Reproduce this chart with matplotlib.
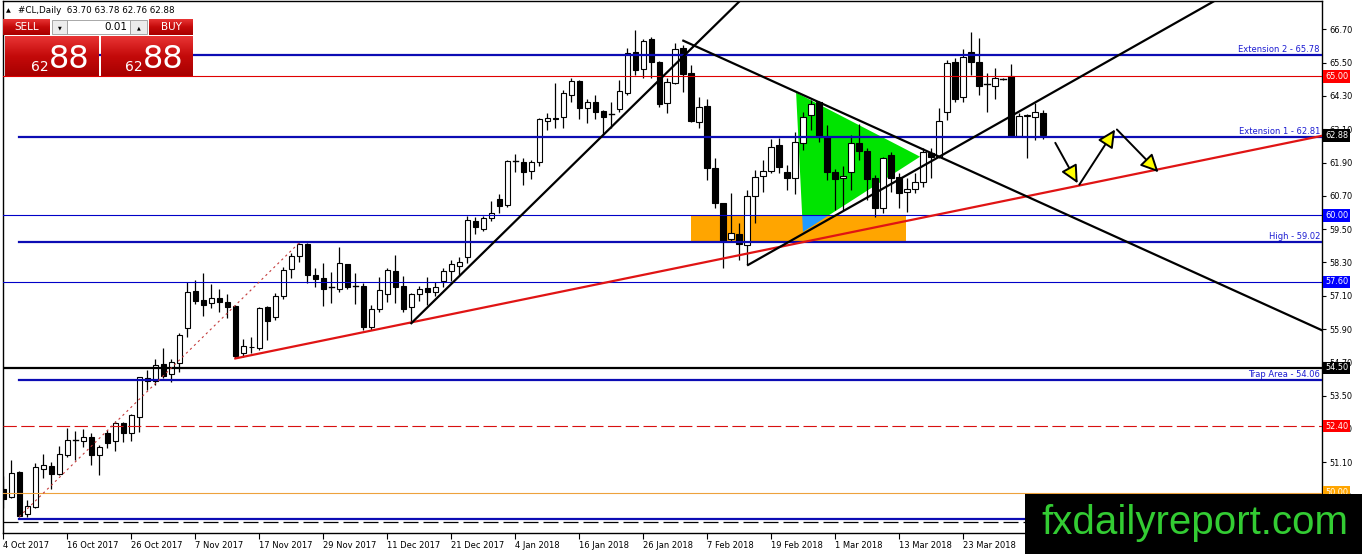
import matplotlib
matplotlib.use("Agg")
import matplotlib.pyplot as plt
from matplotlib.patches import Rectangle, Polygon, FancyArrowPatch
from matplotlib.colors import LinearSegmentedColormap
import numpy as np

plt.rcParams['font.family'] = ['DejaVu Sans']

# ---------------- data (daily OHLC, #CL) ----------------
opens = [50.12, 49.84, 50.75, 49.23, 49.50, 50.87, 50.96, 50.67, 51.35, 51.88,
         51.88, 52.00, 51.35, 52.14, 51.85, 52.52, 52.14, 52.74, 54.12, 54.04,
         54.63, 54.27, 54.69, 55.95, 57.27, 56.94, 56.83, 57.01, 56.87, 56.73,
         55.02, 55.24, 55.20, 56.68, 56.34, 57.09, 58.05, 58.53, 58.95, 57.85,
         57.73, 57.38, 57.33, 58.24, 57.47, 57.45, 55.98, 56.61, 57.15, 57.99,
         57.45, 56.68, 57.16, 57.37, 57.24, 57.64, 58.00, 58.18, 58.48, 59.79,
         59.51, 59.89, 60.60, 60.37, 61.92, 61.91, 61.59, 61.91, 63.41, 63.51,
         63.55, 64.33, 64.84, 63.87, 64.07, 63.76, 63.63, 63.82, 64.42, 65.89,
         65.26, 66.35, 65.53, 64.03, 64.75, 66.04, 65.11, 63.37, 63.94, 61.69,
         60.43, 59.14, 59.31, 58.93, 60.70, 61.42, 61.60, 62.53, 61.57, 61.33,
         62.59, 63.61, 64.07, 62.81, 61.55, 61.33, 61.55, 62.59, 62.31, 61.33,
         60.25, 62.17, 61.39, 60.85, 60.93, 61.19, 62.23, 62.11, 63.71, 65.51,
         64.27, 65.89, 65.53, 64.70, 64.67, 64.90, 65.03, 62.87, 63.57, 63.53,
         63.70]
highs = [50.62, 51.18, 50.78, 49.74, 51.06, 51.38, 51.10, 51.68, 52.34, 52.22,
         52.30, 52.14, 51.72, 52.26, 52.58, 52.56, 52.84, 54.18, 54.42, 54.81,
         55.22, 54.81, 55.74, 57.58, 57.67, 57.91, 57.52, 57.33, 57.16, 56.75,
         55.53, 55.61, 56.68, 56.73, 57.21, 58.12, 58.63, 59.01, 59.00, 58.09,
         58.29, 57.94, 58.87, 58.26, 57.91, 57.57, 56.76, 57.76, 58.09, 58.57,
         57.81, 57.21, 57.45, 57.76, 57.60, 58.09, 58.39, 58.48, 59.97, 59.95,
         59.97, 60.51, 60.76, 61.99, 62.20, 62.05, 61.99, 63.49, 63.67, 64.75,
         64.51, 64.93, 64.86, 64.19, 64.33, 63.79, 64.09, 64.87, 66.04, 66.67,
         66.35, 66.43, 65.55, 64.93, 66.20, 66.13, 65.41, 64.27, 64.19, 62.07,
         60.45, 60.79, 59.71, 60.91, 61.63, 61.99, 62.74, 62.77, 61.81, 62.99,
         63.71, 64.15, 64.12, 63.25, 61.67, 61.78, 62.89, 63.28, 62.41, 61.45,
         62.11, 62.29, 61.51, 61.33, 61.51, 62.41, 62.41, 63.87, 65.59, 65.65,
         65.99, 66.59, 66.40, 65.11, 65.29, 64.93, 65.44, 63.67, 63.64, 64.03,
         63.78]
lows = [49.45, 49.80, 49.12, 49.12, 49.45, 50.52, 50.12, 50.64, 51.30, 51.18,
        51.66, 51.00, 50.64, 51.62, 51.51, 51.84, 51.87, 52.20, 53.70, 53.88,
        54.12, 53.98, 54.36, 55.62, 56.80, 56.38, 56.65, 56.52, 56.29, 54.84,
        54.90, 55.02, 55.14, 55.50, 56.22, 56.97, 57.73, 58.33, 57.55, 57.40,
        56.73, 56.83, 57.24, 57.33, 56.80, 55.86, 55.86, 56.52, 56.88, 56.83,
        56.52, 56.11, 56.92, 56.76, 57.09, 57.42, 57.64, 57.85, 58.29, 59.32,
        59.44, 59.79, 60.09, 60.29, 61.57, 61.09, 61.30, 61.78, 63.07, 63.13,
        63.13, 64.09, 63.47, 63.31, 63.47, 62.89, 63.13, 63.71, 64.33, 65.05,
        64.93, 64.96, 63.91, 63.67, 64.72, 64.45, 63.37, 63.13, 61.27, 60.27,
        58.09, 59.07, 58.39, 58.21, 59.71, 60.85, 61.51, 61.51, 60.91, 60.75,
        62.35, 63.07, 62.63, 61.27, 60.19, 60.19, 60.91, 61.99, 60.55, 59.95,
        60.07, 60.85, 60.25, 60.10, 60.79, 61.03, 61.33, 62.07, 63.43, 64.07,
        64.09, 65.05, 64.33, 63.71, 64.19, 64.89, 62.83, 62.83, 62.05, 62.71,
        62.76]
closes = [49.78, 50.70, 49.15, 49.52, 50.92, 51.00, 50.67, 51.38, 51.89, 51.90,
          52.00, 51.35, 51.64, 51.80, 52.50, 52.14, 52.79, 54.16, 54.04, 54.59,
          54.22, 54.70, 55.67, 57.22, 56.92, 56.78, 57.01, 56.88, 56.70, 54.93,
          55.29, 55.27, 56.65, 56.20, 57.09, 58.03, 58.54, 58.95, 57.84, 57.70,
          57.35, 57.40, 58.27, 57.42, 57.45, 55.96, 56.61, 57.31, 58.03, 57.42,
          56.62, 57.16, 57.33, 57.24, 57.42, 58.00, 58.24, 58.33, 59.83, 59.56,
          59.91, 60.09, 60.34, 61.94, 61.94, 61.57, 61.91, 63.46, 63.49, 63.47,
          64.39, 64.84, 63.87, 64.07, 63.71, 63.55, 63.65, 64.47, 65.84, 65.23,
          66.28, 65.53, 64.00, 64.79, 65.99, 65.08, 63.41, 63.91, 61.71, 60.43,
          59.07, 59.35, 58.95, 60.70, 61.39, 61.60, 62.47, 61.75, 61.33, 62.63,
          63.55, 64.00, 62.83, 61.55, 61.31, 61.42, 62.59, 62.31, 61.31, 60.27,
          62.07, 61.33, 60.81, 60.94, 61.19, 62.27, 62.11, 63.40, 65.47, 64.19,
          65.71, 65.51, 64.67, 64.72, 64.93, 64.91, 62.87, 63.57, 63.61, 63.71,
          62.88]

date_labels = ["4 Oct 2017", "16 Oct 2017", "26 Oct 2017", "7 Nov 2017", "17 Nov 2017",
               "29 Nov 2017", "11 Dec 2017", "21 Dec 2017", "4 Jan 2018", "16 Jan 2018",
               "26 Jan 2018", "7 Feb 2018", "19 Feb 2018", "1 Mar 2018", "13 Mar 2018",
               "23 Mar 2018"]
date_label_bars = [0, 8, 16, 24, 32, 40, 48, 56, 64, 72, 80, 88, 96, 104, 112, 120]
price_ticks = [66.70, 65.50, 64.30, 63.10, 61.90, 60.70, 59.50, 58.30, 57.10,
               55.90, 54.70, 53.50, 52.30, 51.10, 49.90]

# named horizontal levels (thick blue, drawn from the Oct low onwards)
named_levels = [65.78, 62.81, 59.02, 54.06, 49.05]
named_texts = ["Extension 2 - 65.78", "Extension 1 - 62.81", "High - 59.02",
               "Trap Area - 54.06", ""]
level_start_bar = 2
# price levels tagged on the price scale
tag_levels = [65.00, 60.00, 57.60, 54.50, 52.40, 50.00]
bottom_dashed_level = 48.94
last_price = 62.88

# drawn objects (bar index, price)
red_trend_x, red_trend_y = [29, 164.8], [54.84, 62.86]
dotted_x, dotted_y = [2, 37], [49.14, 59.01]
up1_x, up1_y = [51, 95], [56.11, 68.55]
down_x, down_y = [85, 164.8], [66.29, 55.86]
up2_x, up2_y = [93.1, 155], [58.21, 68.31]
green_tri = [(99.1, 64.42), (99.96, 59.40), (114.6, 62.11)]
zone_bars = [86.0, 112.9]
zone_prices = [59.02, 60.00]
arrow_tails = [(131.5, 62.61), (134.5, 61.10), (139.2, 63.09)]
arrow_heads = [(134.3, 61.15), (138.97, 63.09), (144.4, 61.55)]

# ---------------- figure ----------------
W, H = 1362, 554
fig = plt.figure(figsize=(W / 100, H / 100), dpi=100)
fig.patch.set_facecolor('white')
ax = fig.add_axes([3 / W, 21 / H, 1319 / W, 532 / H])
ax.set_xlim(-0.04, 164.84)
ax.set_ylim(48.55, 67.72)
ax.set_facecolor('white')
for s in ax.spines.values():
    s.set_color('black')
    s.set_linewidth(1.0)

BLUE_THICK = '#0c0cb4'
BLUE_THIN = '#0000c8'
BLUE_TEXT = '#1c1cd2'

# background objects
ax.add_patch(Polygon(green_tri, closed=True, fc='#00e400', ec='none', zorder=1))
ax.add_patch(Rectangle((zone_bars[0], zone_prices[0]), zone_bars[1] - zone_bars[0],
                       zone_prices[1] - zone_prices[0], fc='#ffa500', ec='none', zorder=1))


def clip_poly(poly, x0, x1, y0, y1):
    def clip(pts, inside, inter):
        out = []
        for i in range(len(pts)):
            a, b = pts[i - 1], pts[i]
            ia, ib = inside(a), inside(b)
            if ib:
                if not ia:
                    out.append(inter(a, b))
                out.append(b)
            elif ia:
                out.append(inter(a, b))
        return out

    def ix(a, b, x):
        t = (x - a[0]) / (b[0] - a[0])
        return (x, a[1] + t * (b[1] - a[1]))

    def iy(a, b, y):
        t = (y - a[1]) / (b[1] - a[1])
        return (a[0] + t * (b[0] - a[0]), y)

    p = list(poly)
    p = clip(p, lambda q: q[0] >= x0, lambda a, b: ix(a, b, x0))
    p = clip(p, lambda q: q[0] <= x1, lambda a, b: ix(a, b, x1))
    p = clip(p, lambda q: q[1] >= y0, lambda a, b: iy(a, b, y0))
    p = clip(p, lambda q: q[1] <= y1, lambda a, b: iy(a, b, y1))
    return p


overlap = clip_poly(green_tri, zone_bars[0], zone_bars[1], zone_prices[0], zone_prices[1])
if len(overlap) >= 3:
    ax.add_patch(Polygon(overlap, closed=True, fc='#1e9bff', ec='none', zorder=1.2))

# candles
bw = 0.7
for i, (o, h, l, c) in enumerate(zip(opens, highs, lows, closes)):
    ax.plot([i, i], [l, h], color='black', lw=0.9, zorder=3, solid_capstyle='butt')
    lo, hi = min(o, c), max(o, c)
    if hi - lo < 0.03:
        ax.plot([i - bw / 2, i + bw / 2], [c, c], color='black', lw=1.0, zorder=3.2)
    else:
        ax.add_patch(Rectangle((i - bw / 2, lo), bw, hi - lo,
                               fc='white' if c > o else 'black', ec='black',
                               lw=0.8, zorder=3.1))

xmax = ax.get_xlim()[1]
xmin = ax.get_xlim()[0]

# horizontal levels
for p in named_levels:
    ax.plot([level_start_bar, xmax], [p, p], color=BLUE_THICK, lw=1.6, zorder=4)
tag_styles = {65.00: ('#e00000', 0.8, '-'), 60.00: (BLUE_THIN, 0.8, '-'),
              57.60: (BLUE_THIN, 0.8, '-'), 54.50: ('black', 1.6, '-'),
              52.40: ('#d81010', 0.8, (0, (12, 4))), 50.00: ('#eda23c', 0.8, '-')}
for p in tag_levels:
    col, lw, ls = tag_styles[p]
    ax.plot([xmin, xmax], [p, p], color=col, lw=lw, ls=ls, zorder=4)
ax.plot([xmin, xmax], [bottom_dashed_level] * 2, color='black', lw=0.9,
        ls=(0, (12, 4)), zorder=4)

for p, t in zip(named_levels, named_texts):
    if t:
        ax.annotate(t, xy=(1, p), xycoords=('axes fraction', 'data'),
                    xytext=(-1.5, 0.8), textcoords='offset points', ha='right',
                    va='bottom', fontsize=6, color=BLUE_TEXT, zorder=6)

# trend lines
ax.plot(red_trend_x, red_trend_y, color='#e01414', lw=1.6, zorder=5)
ax.plot(dotted_x, dotted_y, color='#c43a3a', lw=0.8, ls=(0, (2, 3)), zorder=5)
ax.plot(up1_x, up1_y, color='black', lw=1.6, zorder=5)
ax.plot(down_x, down_y, color='black', lw=1.6, zorder=5)
ax.plot(up2_x, up2_y, color='black', lw=1.6, zorder=5)

# arrows
for t, h in zip(arrow_tails, arrow_heads):
    ax.add_patch(FancyArrowPatch(t, h, arrowstyle='-|>,head_length=0.45,head_width=0.22',
                                 mutation_scale=24, fc='#ffff00', ec='black', lw=1.4,
                                 shrinkA=0, shrinkB=0, zorder=6))

# axes ticks
ax.set_xticks(date_label_bars)
ax.set_xticklabels(date_labels, ha='left')
ax.yaxis.tick_right()
ax.set_yticks(price_ticks)
ax.set_yticklabels([f"{v:.2f}" for v in price_ticks])
ax.tick_params(axis='x', direction='out', length=4, pad=2, labelsize=6, width=0.8)
ax.tick_params(axis='y', direction='out', length=3, pad=2, labelsize=5.9, width=0.8)
ax.yaxis.set_tick_params(which='both', right=True, left=False)

# price tags
tag_colors = {65.00: '#ff0000', 60.00: '#0000ff', 57.60: '#0000ff', 54.50: 'black',
              52.40: '#ff0000', 50.00: '#ffa500'}
for p in tag_levels + [last_price]:
    fc = tag_colors.get(p, 'black')
    ax.annotate(f"{p:.2f}", xy=(1, p), xycoords=('axes fraction', 'data'),
                xytext=(2.2, 0), textcoords='offset points', ha='left', va='center',
                fontsize=5.9, color='white', zorder=8, annotation_clip=False,
                bbox=dict(boxstyle='square,pad=0.22', fc=fc, ec='none'))

# ---------------- overlay: header, trade panel, logo ----------------
ov = fig.add_axes([0, 0, 1, 1], zorder=10)
ov.set_xlim(0, W)
ov.set_ylim(H, 0)
ov.axis('off')
ov.patch.set_alpha(0)

ov.text(8, 10.5, '▲', fontsize=4.5, ha='center', va='center', color='black')
ov.text(18, 10.5, f"#CL,Daily  {opens[-1]:.2f} {highs[-1]:.2f} {lows[-1]:.2f} {closes[-1]:.2f}",
        fontsize=6.3, ha='left', va='center', color='black')

redmap = LinearSegmentedColormap.from_list('r', ['#e83434', '#c40a0a', '#a80000'])
grad = np.linspace(0, 1, 50).reshape(-1, 1)


def red_box(x0, y0, x1, y1):
    ov.imshow(grad, extent=(x0, x1, y1, y0), cmap=redmap, aspect='auto',
              origin='upper', zorder=1, interpolation='bilinear')


red_box(3, 19, 50, 35)
red_box(149, 19, 193, 35)
red_box(5, 36, 99, 76)
red_box(101, 36, 193, 76)
ov.text(26.5, 27.5, 'SELL', fontsize=7.5, color='white', ha='center', va='center', zorder=3)
ov.text(171, 27.5, 'BUY', fontsize=7.5, color='white', ha='center', va='center', zorder=3)
ov.add_patch(Rectangle((52, 20), 15, 14, fc='#ececec', ec='#9a9a9a', lw=0.6, zorder=2))
ov.add_patch(Rectangle((67, 20), 63, 14, fc='white', ec='#9a9a9a', lw=0.6, zorder=2))
ov.add_patch(Rectangle((130, 20), 17, 14, fc='#ececec', ec='#9a9a9a', lw=0.6, zorder=2))
ov.text(59.5, 27.5, '▼', fontsize=3.5, ha='center', va='center', zorder=3)
ov.text(138.5, 27.5, '▲', fontsize=3.5, ha='center', va='center', zorder=3)
ov.text(127, 27.5, '0.01', fontsize=7.5, ha='right', va='center', zorder=3)
bid_big = f"{closes[-1]:.2f}"
ov.text(49, 67, bid_big[:2], fontsize=10, color='white', ha='right', va='center', zorder=3)
ov.text(69, 60, bid_big[3:], fontsize=23, color='white', ha='center', va='center', zorder=3)
ov.text(143, 67, bid_big[:2], fontsize=10, color='white', ha='right', va='center', zorder=3)
ov.text(163, 60, bid_big[3:], fontsize=23, color='white', ha='center', va='center', zorder=3)

ov.add_patch(Rectangle((1025, 494), W - 1025, H - 494, fc='black', ec='none', zorder=2))
ov.text(1195, 523, 'fxdailyreport.com', fontsize=29, color='#33cc33',
        family='Liberation Sans', ha='center', va='center', zorder=3)
ov.set_xlim(0, W)
ov.set_ylim(H, 0)

fig.savefig('out.png', dpi=100)
